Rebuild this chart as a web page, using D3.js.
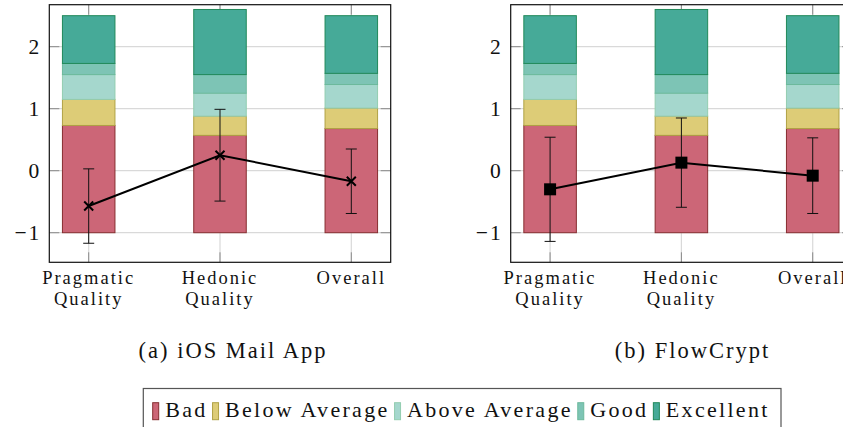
<!DOCTYPE html>
<html>
<head>
<meta charset="utf-8">
<script src="https://cdn.jsdelivr.net/npm/d3@7"></script>
<style>
  body { margin: 0; background: #fff; }
  svg { display: block; overflow: hidden; }
</style>
</head>
<body>
<div id="chart"></div>
<script>
// categories and benchmark levels
var categories = ["Pragmatic Quality", "Hedonic Quality", "Overall"];
var categoryLines = [["Pragmatic", "Quality"], ["Hedonic", "Quality"], ["Overall"]];
var levels = ["Bad", "Below Average", "Above Average", "Good", "Excellent"];

// benchmark bands (stacked heights, starting at -1)
var benchBase = -1;
var bad = [1.73, 1.57, 1.68];
var belowAverage = [0.42, 0.31, 0.33];
var aboveAverage = [0.40, 0.37, 0.38];
var good = [0.18, 0.30, 0.18];
var excellent = [0.77, 1.05, 0.93];

// measured means and error (std dev)
var iosMean = [-0.57, 0.25, -0.17];
var iosErr = [0.60, 0.74, 0.52];
var flowMean = [-0.30, 0.13, -0.08];
var flowErr = [0.84, 0.72, 0.61];

var yTicks = [-1, 0, 1, 2];
var captions = ["(a) iOS Mail App", "(b) FlowCrypt"];

var fills = ["#cc6677", "#ddcc77", "#a5d7cd", "#7dc4b5", "#46aa98"];
var strokes = ["#862d30", "#b0a245", "#93cdb0", "#6cb99c", "#21895a"];

var fontFam = "'Liberation Serif', 'Times New Roman', 'DejaVu Serif', serif";

var width = 843, height = 427;

var svg = d3.select("#chart").append("svg")
  .attr("width", width)
  .attr("height", height)
  .attr("font-family", fontFam)
  .style("font-family", fontFam);

// build stacked table
var table = categories.map(function(c, i) {
  return { cat: i, "Bad": bad[i], "Below Average": belowAverage[i],
    "Above Average": aboveAverage[i], "Good": good[i], "Excellent": excellent[i] };
});
var stacked = d3.stack().keys(levels)(table);

function addText(sel) {
  return sel.append("text")
    .attr("font-family", fontFam)
    .style("font-family", fontFam)
    .attr("fill", "#111");
}

function drawPanel(left, means, errs, marker, caption, captionX) {
  var plotW = 341.4, top = 4.7, bottom = 262.3;

  var x = d3.scaleLinear().domain([-0.3, 2.3]).range([left, left + plotW]);
  var y = d3.scaleLinear().domain([-1.477, 2.677]).range([bottom, top]);

  var g = svg.append("g");

  // grid
  g.selectAll(".hgrid").data(yTicks).enter().append("line")
    .attr("x1", left).attr("x2", left + plotW)
    .attr("y1", function(d) { return y(d); }).attr("y2", function(d) { return y(d); })
    .attr("stroke", "#d9d9d9").attr("stroke-width", 1.2);
  g.selectAll(".vgrid").data(d3.range(categories.length)).enter().append("line")
    .attr("x1", function(d) { return x(d); }).attr("x2", function(d) { return x(d); })
    .attr("y1", top).attr("y2", bottom)
    .attr("stroke", "#d9d9d9").attr("stroke-width", 1.2);

  // ticks (inside, on all sides)
  var tl = 10;
  yTicks.forEach(function(t) {
    g.append("line").attr("x1", left).attr("x2", left + tl)
      .attr("y1", y(t)).attr("y2", y(t)).attr("stroke", "#8a8a8a");
    g.append("line").attr("x1", left + plotW - tl).attr("x2", left + plotW)
      .attr("y1", y(t)).attr("y2", y(t)).attr("stroke", "#8a8a8a");
  });
  d3.range(categories.length).forEach(function(i) {
    g.append("line").attr("x1", x(i)).attr("x2", x(i))
      .attr("y1", top).attr("y2", top + tl).attr("stroke", "#8a8a8a");
    g.append("line").attr("x1", x(i)).attr("x2", x(i))
      .attr("y1", bottom - tl).attr("y2", bottom).attr("stroke", "#8a8a8a");
  });

  // stacked bars
  var bw = x(0.2) - x(-0.2);
  stacked.forEach(function(layer, li) {
    g.selectAll(".bar" + li).data(layer).enter().append("rect")
      .attr("x", function(d, i) { return x(i) - bw / 2; })
      .attr("width", bw)
      .attr("y", function(d) { return y(benchBase + d[1]); })
      .attr("height", function(d) { return y(benchBase + d[0]) - y(benchBase + d[1]); })
      .attr("fill", fills[li])
      .attr("stroke", strokes[li])
      .attr("stroke-width", 1);
  });

  // error bars
  var cap = 5.5;
  means.forEach(function(m, i) {
    var lo = y(m - errs[i]), hi = y(m + errs[i]), cx = x(i);
    g.append("line").attr("x1", cx).attr("x2", cx).attr("y1", lo).attr("y2", hi)
      .attr("stroke", "#111").attr("stroke-width", 1);
    [lo, hi].forEach(function(yy) {
      g.append("line").attr("x1", cx - cap).attr("x2", cx + cap).attr("y1", yy).attr("y2", yy)
        .attr("stroke", "#111").attr("stroke-width", 1);
    });
  });

  // mean line
  var line = d3.line()
    .x(function(d, i) { return x(i); })
    .y(function(d) { return y(d); });
  g.append("path").datum(means)
    .attr("d", line)
    .attr("fill", "none")
    .attr("stroke", "#000")
    .attr("stroke-width", 2);

  // markers
  means.forEach(function(m, i) {
    var cx = x(i), cy = y(m);
    if (marker === "x") {
      var s = 4.5;
      g.append("path")
        .attr("d", "M" + (cx - s) + "," + (cy - s) + "L" + (cx + s) + "," + (cy + s) +
          "M" + (cx - s) + "," + (cy + s) + "L" + (cx + s) + "," + (cy - s))
        .attr("stroke", "#000").attr("stroke-width", 2);
    } else {
      g.append("rect").attr("x", cx - 6).attr("y", cy - 6)
        .attr("width", 12).attr("height", 12).attr("fill", "#000");
    }
  });

  // frame
  g.append("rect").attr("x", left).attr("y", top)
    .attr("width", plotW).attr("height", bottom - top)
    .attr("fill", "none").attr("stroke", "#111").attr("stroke-width", 1.2);

  // y tick labels
  yTicks.forEach(function(d) {
    addText(g)
      .attr("x", left - 8)
      .attr("y", y(d) + 7.4)
      .attr("text-anchor", "end")
      .style("font-size", "21.5px")
      .style("letter-spacing", "2px")
      .text(d < 0 ? "\u2212" + Math.abs(d) : d);
  });

  // x tick labels
  categoryLines.forEach(function(lines, i) {
    lines.forEach(function(l, j) {
      addText(g)
        .attr("x", x(i))
        .attr("y", 284 + j * 21)
        .attr("text-anchor", "middle")
        .style("font-size", "18.5px")
        .style("letter-spacing", "2px")
        .text(l);
    });
  });

  // caption
  addText(svg)
    .attr("x", captionX)
    .attr("y", 358)
    .attr("text-anchor", "middle")
    .style("font-size", "22.5px")
    .style("letter-spacing", "2px")
    .text(caption);
}

drawPanel(49.3, iosMean, iosErr, "x", captions[0], 233);
drawPanel(510.7, flowMean, flowErr, "square", captions[1], 692.5);

// legend
var legend = svg.append("g");
legend.append("rect")
  .attr("x", 143.3).attr("y", 388.5)
  .attr("width", 637.7).attr("height", 60)
  .attr("fill", "#fff").attr("stroke", "#555").attr("stroke-width", 1.2);

var lx = 152.7;
levels.forEach(function(lv, i) {
  legend.append("rect")
    .attr("x", lx).attr("y", 402.7)
    .attr("width", 6).attr("height", 17)
    .attr("fill", fills[i]).attr("stroke", strokes[i]).attr("stroke-width", 1);
  var t = addText(legend)
    .attr("x", lx + 12.5)
    .attr("y", 416.5)
    .style("font-size", "22px")
    .style("letter-spacing", "2.3px")
    .text(lv);
  lx = lx + 12.5 + t.node().getComputedTextLength() + 5;
});
</script>
</body>
</html>
